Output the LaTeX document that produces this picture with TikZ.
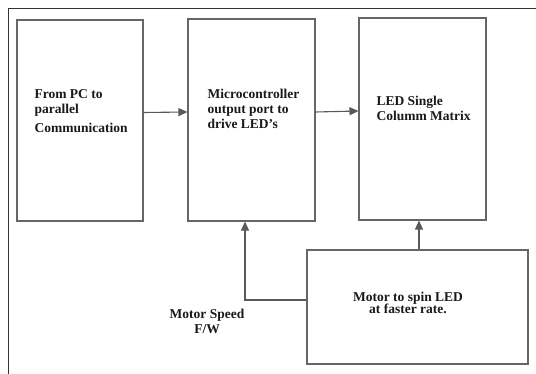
\documentclass[tikz,border=0pt]{standalone}
\usepackage{fontspec}
\setmainfont{Liberation Serif}
\usetikzlibrary{arrows.meta}

\begin{document}
\begin{tikzpicture}[x=1pt,y=-1pt,line width=1.1pt,>={Triangle[length=9pt,width=8pt]},
  blk/.style args={#1/#2}{draw=black!60,minimum width=#1pt,minimum height=#2pt,inner sep=0pt},
  txt/.style={font=\bfseries\fontsize{13.5}{15}\selectfont,inner sep=0pt,text=black!90}]
\useasboundingbox (0,0) rectangle (536,374);
% outer frame (cut at right and bottom)
\draw[line width=0.8pt,black!80] (536,8) -- (8,8) -- (8,374);
% blocks
\node[blk=126/201] (pc) at (80,120.5) {};
\node[blk=127/202] (mcu) at (251.5,120) {};
\node[blk=127/202] (led) at (422.5,119) {};
\node[blk=221/114] (motor) at (417.5,307) {};
% block texts
\node[txt,anchor=north west,align=left] (pctxt) at (34,89) {From PC to\\parallel\\[4pt]Communication};
\node[txt,anchor=north west,align=left] (mcutxt) at (207,89) {Microcontroller\\output port to\\drive LED's};
\node[txt,anchor=north west,align=left] (ledtxt) at (376,96) {LED Single\\Columm Matrix};
\node[txt,align=center,font=\bfseries\fontsize{13.5}{12.5}\selectfont] (motortxt) at (408,303) {Motor to spin LED\\at faster rate.};
\node[txt,align=center] (speed) at (207,321) {Motor Speed\\F/W};
% connectors
\draw[->,black!65] ([yshift=8pt]pc.east) -- ([yshift=8pt]mcu.west);
\draw[->,black!65] ([yshift=8pt]mcu.east) -- ([yshift=8pt]led.west);
\draw[->,black!65] ([yshift=7pt]motor.west) -| ([xshift=-6.5pt]mcu.south);
\draw[->,black!65] ([xshift=1.5pt]motor.north) -- ([xshift=1.5pt]motor.north |- led.south);
\end{tikzpicture}
\end{document}
